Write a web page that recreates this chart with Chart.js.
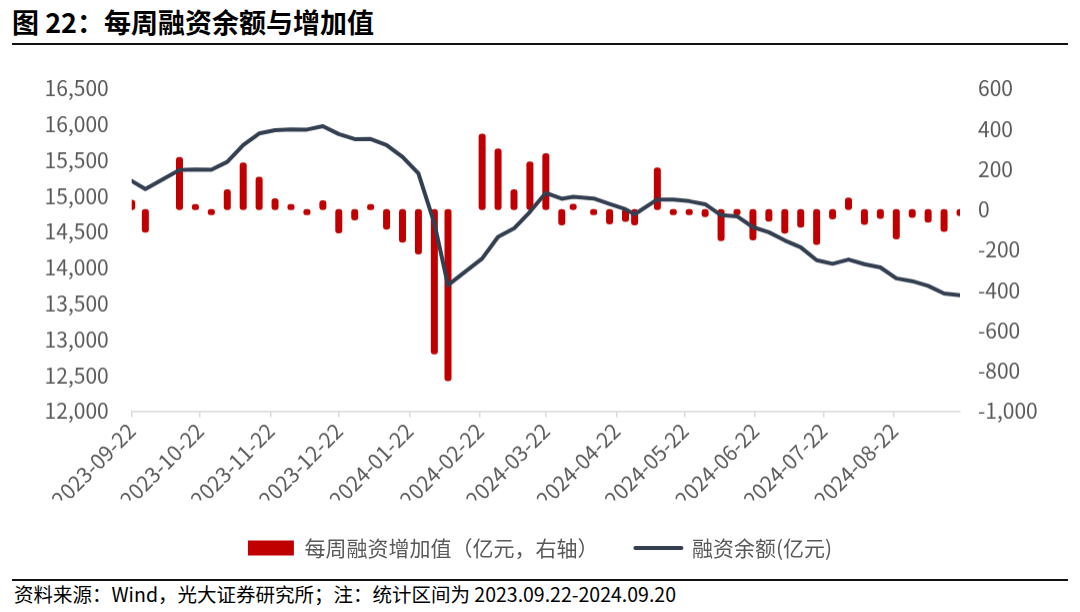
<!DOCTYPE html>
<html lang="zh-CN">
<head>
<meta charset="utf-8">
<script src="https://cdn.jsdelivr.net/npm/chart.js@4.4.1/dist/chart.umd.min.js"></script>
<style>
    html, body { margin: 0; padding: 0; background: #fff; }
    body { width: 1080px; height: 612px; position: relative; overflow: hidden; font-family: "Noto Sans CJK SC", sans-serif; }
    .titulo { position: absolute; left: 12px; top: 4px; font-size: 27px; font-weight: bold; color: #000; line-height: 36px; }
    .linea-sup { position: absolute; left: 12px; top: 43px; width: 1056px; height: 2px; background: #111; }
    .grafica { position: absolute; left: 0; top: 50px; width: 1080px; height: 517.5px; z-index: 2; }
    .linea-inf { position: absolute; left: 12px; top: 578.5px; width: 1056px; height: 2px; background: #111; }
    .fuente { position: absolute; left: 14px; top: 581px; font-size: 19.5px; color: #000; line-height: 26px; }
</style>
</head>
<body>
    <div class="titulo">图 22：每周融资余额与增加值</div>
    <div class="linea-sup"></div>
    <div class="grafica"><canvas id="grafica-融资"></canvas></div>
    <div class="linea-inf"></div>
    <div class="fuente">资料来源：Wind，光大证券研究所；注：统计区间为 2023.09.22-2024.09.20</div>
</body>
</html>
<script>
    // fechas semanales (último día hábil de cada semana)
    const fechas = [
        '2023-09-22', '2023-09-28', '2023-10-13', '2023-10-20', '2023-10-27', '2023-11-03',
        '2023-11-10', '2023-11-17', '2023-11-24', '2023-12-01', '2023-12-08', '2023-12-15',
        '2023-12-22', '2023-12-29', '2024-01-05', '2024-01-12', '2024-01-19', '2024-01-26',
        '2024-02-02', '2024-02-08', '2024-02-23', '2024-03-01', '2024-03-08', '2024-03-15',
        '2024-03-22', '2024-03-29', '2024-04-03', '2024-04-12', '2024-04-19', '2024-04-26',
        '2024-04-30', '2024-05-10', '2024-05-17', '2024-05-24', '2024-05-31', '2024-06-07',
        '2024-06-14', '2024-06-21', '2024-06-28', '2024-07-05', '2024-07-12', '2024-07-19',
        '2024-07-26', '2024-08-02', '2024-08-09', '2024-08-16', '2024-08-23', '2024-08-30',
        '2024-09-06', '2024-09-13', '2024-09-20'
    ]

    // 融资余额 (亿元, eje izquierdo)
    const saldo = [
        15211, 15096, 15361, 15370, 15366, 15476,
        15709, 15872, 15918, 15928, 15926, 15974,
        15863, 15793, 15795, 15709, 15546, 15315,
        14620, 13757, 14129, 14431, 14548, 14779,
        15044, 14962, 14988, 14966, 14890, 14815,
        14745, 14952, 14950, 14928, 14885, 14733,
        14717, 14566, 14495, 14380, 14285, 14106,
        14055, 14115, 14050, 14004, 13852, 13813,
        13747, 13641, 13615
    ]

    // 每周融资增加值 (亿元, eje derecho)
    const incremento = [
        45, -112, 258, 12, -5, 97,
        230, 159, 53, 10, -3, 43,
        -116, -51, 5, -98, -162, -220,
        -716, -848, 373, 300, 97, 235,
        276, -76, 25, -25, -71, -59,
        -76, 205, -3, -22, -35, -154,
        -19, -151, -58, -117, -88, -173,
        -46, 56, -74, -44, -146, -39,
        -63, -109, -30
    ]

    const etiquetasMes = [
        '2023-09-22', '2023-10-22', '2023-11-22', '2023-12-22', '2024-01-22', '2024-02-22',
        '2024-03-22', '2024-04-22', '2024-05-22', '2024-06-22', '2024-07-22', '2024-08-22'
    ]

    const ejeIzq = [12000, 16500, 500]
    const ejeDer = [-1000, 600, 200]

    const aUTC = (s) => {
        const [a, m, d] = s.split('-').map(Number)
        return Date.UTC(a, m - 1, d)
    }
    const base = aUTC(fechas[0])
    const dia = (s) => (aUTC(s) - base) / 86400000

    const puntos = (valores) => fechas.map((f, i) => ({ x: dia(f), y: valores[i] }))

    const miles = (v) => Number(v).toLocaleString('en-US')

    Chart.defaults.font.family = '"Noto Sans CJK SC", "Noto Sans", sans-serif'
    Chart.defaults.font.size = 21
    Chart.defaults.color = '#595959'

    const contenedor = document.querySelector('#grafica-融资')
    const grafica = new Chart(contenedor, {
        type: 'bar',
        data: {
            datasets: [{
                type: 'bar',
                label: '每周融资增加值（亿元，右轴）',
                data: puntos(incremento),
                yAxisID: 'yDer',
                backgroundColor: '#C00000',
                barThickness: 6,
                inflateAmount: 0.5,
                borderRadius: 3,
                borderSkipped: false,
                minBarLength: 5,
                order: 1
            }, {
                type: 'line',
                label: '融资余额(亿元)',
                data: puntos(saldo),
                yAxisID: 'yIzq',
                borderColor: '#333F50',
                backgroundColor: '#333F50',
                borderWidth: 4,
                borderJoinStyle: 'round',
                borderCapStyle: 'round',
                pointRadius: 0,
                tension: 0,
                order: 0
            }]
        },
        options: {
            responsive: true,
            maintainAspectRatio: false,
            animation: false,
            layout: { padding: { top: 38.3, left: 0, right: 0, bottom: 0 } },
            plugins: {
                tooltip: { enabled: false },
                legend: {
                    position: 'bottom',
                    labels: {
                        usePointStyle: true,
                        pointStyleWidth: 46,
                        boxHeight: 15,
                        padding: 37,
                        color: '#595959',
                        font: { size: 21 },
                        generateLabels: (chart) => {
                            const items = Chart.defaults.plugins.legend.labels.generateLabels(chart)
                            items.forEach(it => {
                                const ds = chart.data.datasets[it.datasetIndex]
                                if (ds.type === 'line') {
                                    it.pointStyle = 'line'
                                    it.lineWidth = 4
                                    it.lineCap = 'round'
                                    it.strokeStyle = '#333F50'
                                } else {
                                    it.pointStyle = 'rect'
                                    it.lineWidth = 0
                                    it.fillStyle = '#C00000'
                                }
                            })
                            return items.sort((a, b) => a.datasetIndex - b.datasetIndex)
                        }
                    }
                }
            },
            scales: {
                x: {
                    type: 'linear',
                    position: 'bottom',
                    min: 0,
                    max: dia(fechas[fechas.length - 1]),
                    offset: false,
                    grid: { offset: false, drawOnChartArea: false, drawTicks: true, tickLength: 6, color: '#D9D9D9', lineWidth: 1.5 },
                    border: { display: true, color: '#D9D9D9', width: 1.5 },
                    afterBuildTicks: (eje) => {
                        eje.ticks = etiquetasMes.map(s => ({ value: dia(s) }))
                    },
                    afterFit: (eje) => { eje.height = 89 },
                    ticks: {
                        autoSkip: false,
                        minRotation: 45,
                        maxRotation: 45,
                        padding: 1,
                        callback: (valor, i) => etiquetasMes[i]
                    }
                },
                yIzq: {
                    type: 'linear',
                    position: 'left',
                    min: ejeIzq[0],
                    max: ejeIzq[1],
                    grid: { display: false, drawTicks: false },
                    border: { display: false },
                    afterFit: (eje) => { eje.width = 131.7 },
                    ticks: { stepSize: ejeIzq[2], padding: 23, callback: miles }
                },
                yDer: {
                    type: 'linear',
                    position: 'right',
                    min: ejeDer[0],
                    max: ejeDer[1],
                    grid: { display: false, drawTicks: false },
                    border: { display: false },
                    afterFit: (eje) => { eje.width = 120 },
                    ticks: { stepSize: ejeDer[2], padding: 18, callback: miles }
                }
            }
        }
    })
</script>
